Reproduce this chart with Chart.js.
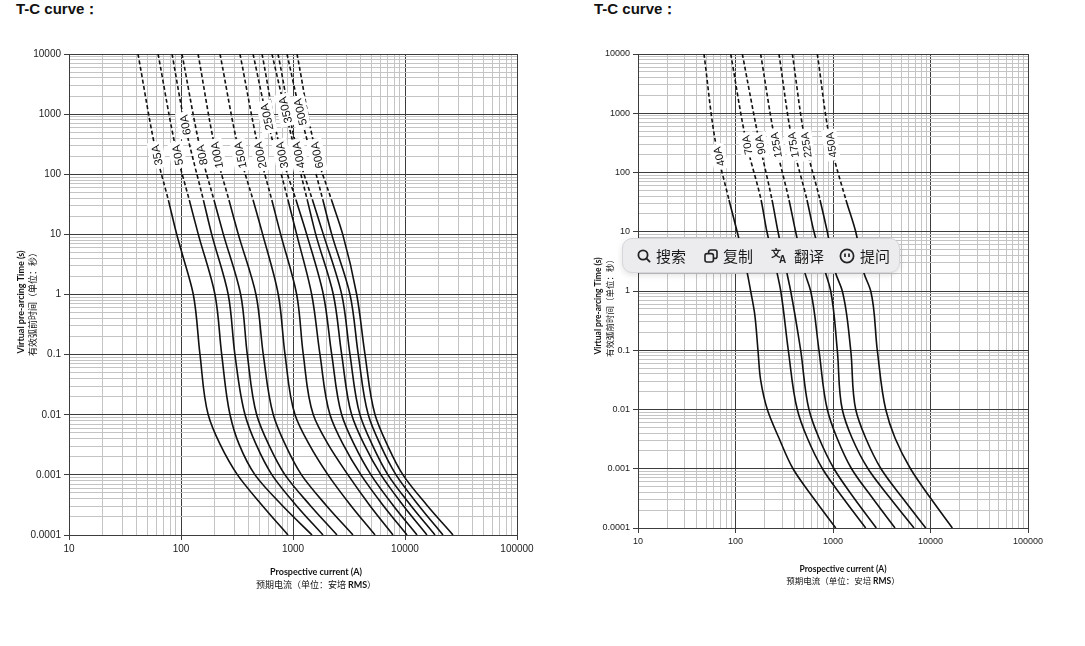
<!DOCTYPE html>
<html>
<head>
<meta charset="utf-8">
<script src="https://cdn.jsdelivr.net/npm/chart.js@4.4.1/dist/chart.umd.min.js"></script>
<style>
  html, body { margin: 0; padding: 0; background: #fff; }
  body { width: 1085px; height: 646px; position: relative; overflow: hidden; font-family: "Liberation Sans", Arial, sans-serif; }
  .head { position: absolute; top: 0px; font-weight: bold; font-size: 15px; color: #111; }
  canvas { position: absolute; top: 0; }
  #toolbar { position: absolute; left: 622px; top: 238px; width: 276px; height: 33px; border-radius: 10px;
    background: #ececef; border: 1px solid #d6d6db; box-shadow: 0 2px 6px rgba(0,0,0,0.12); z-index: 5; }
  #toolbar .it { position: absolute; top: 0; height: 33px; display: flex; align-items: center;
    font-family: "Noto Sans CJK SC", sans-serif; font-size: 15px; color: #1b1b1b; }
  #toolbar svg { margin-right: 5px; }
</style>
</head>
<body>
<div class="head" style="left:16px">T-C curve：</div>
<div class="head" style="left:594px">T-C curve：</div>
<canvas id="leftChart" width="545" height="610" style="left:0"></canvas>
<canvas id="rightChart" width="540" height="610" style="left:545px"></canvas>

<div id="toolbar">
  <div class="it" style="left:14px">
    <svg width="14" height="14" viewBox="0 0 14 14"><circle cx="6" cy="6" r="4.6" stroke="#222" stroke-width="1.8" fill="none"/><line x1="9.4" y1="9.4" x2="12.6" y2="12.6" stroke="#222" stroke-width="1.9" stroke-linecap="round"/></svg>搜索</div>
  <div class="it" style="left:81px">
    <svg width="14" height="14" viewBox="0 0 14 14" fill="none" stroke="#222" stroke-width="1.6"><rect x="1" y="4.6" width="8.4" height="8.4" rx="2"/><path d="M4.6 4.6V3a2 2 0 0 1 2-2H11a2 2 0 0 1 2 2v4.4a2 2 0 0 1-2 2H9.4"/></svg>复制</div>
  <div class="it" style="left:148px">
    <svg width="18" height="15" viewBox="0 0 18 15"><text x="0" y="9" font-size="10" font-weight="bold" fill="#222" font-family="Noto Sans CJK SC">文</text><text x="8" y="14.5" font-size="10" font-weight="bold" fill="#222" font-family="Liberation Sans">A</text></svg>翻译</div>
  <div class="it" style="left:216px">
    <svg width="16" height="16" viewBox="0 0 16 16" fill="none" stroke="#222" stroke-width="1.7"><circle cx="8" cy="8" r="6.6"/><line x1="6" y1="5.6" x2="6" y2="9"/><line x1="10" y1="5.6" x2="10" y2="9"/></svg>提问</div>
</div>

<script>
// ---- axes ----
const xTicks = [10, 100, 1000, 10000, 100000];
const xTickLabels = ['10', '100', '1000', '10000', '100000'];
const yTicks = [0.0001, 0.001, 0.01, 0.1, 1, 10, 100, 1000, 10000];
const yTickLabels = ['0.0001', '0.001', '0.01', '0.1', '1', '10', '100', '1000', '10000'];

const yTitleEn = 'Virtual pre-arcing Time (s)';
const yTitleCn = '有效弧前时间（单位：秒）';
const xTitleEn = 'Prospective current (A)';
const xTitleCn = [['预期电流（单位：安培 ', false], ['RMS', true], ['）', false]];

// ---- left chart curves: [current A, time s] ----
const leftNames = ['35A', '50A', '60A', '80A', '100A', '150A', '200A', '250A', '300A', '350A', '400A', '500A', '600A'];
const left35A = [[41.3,10000],[60.7,208],[77.1,37.2],[91.6,10],[102,4.9],[128.8,1],[147.8,0.1],[175,0.01],[223,0.00324],[319.5,0.001],[529,0.000313],[902,0.0001]];
const left50A = [[62.4,10000],[92.7,208],[118.6,37.2],[142.7,10],[201,1],[231,0.1],[274,0.01],[329.6,0.00324],[458,0.001],[798,0.000313],[1479,0.0001]];
const left60A = [[83.2,10000],[108.6,659],[158.5,37.2],[188,10],[264,1],[303,0.1],[373,0.01],[467,0.00324],[649,0.001],[1064,0.000313],[1853,0.0001]];
const left80A = [[102,10000],[153,208],[197,37.2],[239,10],[341,1],[391,0.1],[474,0.01],[604,0.00324],[849,0.001],[1419,0.000313],[2470,0.0001]];
const left100A = [[142,10000],[208,208],[268,37.2],[325,10],[467,1],[543,0.1],[667,0.01],[849,0.00324],[1191,0.001],[1972,0.000313],[3433,0.0001]];
const left150A = [[223,10000],[336,208],[440,37.2],[536,10],[739,1],[849,0.1],[1042,0.01],[1390,0.00324],[2054,0.001],[3267,0.000313],[5400,0.0001]];
const left200A = [[336,10000],[507,208],[647,37.2],[776,10],[1079,1],[1236,0.1],[1518,0.01],[2054,0.00324],[3097,0.001],[4831,0.000313],[7810,0.0001]];
const left250A = [[440,10000],[582,896],[902,37.2],[1079,10],[1469,1],[1742,0.1],[2140,0.01],[2794,0.00324],[4048,0.001],[6363,0.000313],[10420,0.0001]];
const left300A = [[529,10000],[793,208],[1064,37.2],[1325,10],[1866,1],[2218,0.1],[2722,0.01],[3505,0.00324],[4970,0.001],[7810,0.000313],[12800,0.0001]];
const left350A = [[649,10000],[849,1170],[1342,37.2],[1596,10],[2291,1],[2722,0.1],[3342,0.01],[4305,0.00324],[6107,0.001],[9594,0.000313],[15700,0.0001]];
const left400A = [[735,10000],[1115,208],[1493,37.2],[1866,10],[2722,1],[3228,0.1],[3963,0.01],[5070,0.00324],[7046,0.001],[11220,0.000313],[18540,0.0001]];
const left500A = [[884,10000],[1155,1084],[1849,37.2],[2218,10],[3228,1],[3828,0.1],[4699,0.01],[5984,0.00324],[8318,0.001],[13210,0.000313],[21830,0.0001]];
const left600A = [[1086,10000],[1629,208],[2208,37.2],[2780,10],[3705,1],[4395,0.1],[5400,0.01],[6902,0.00324],[9594,0.001],[15700,0.000313],[26840,0.0001]];
const leftLabelTimes = [208, 208, 659, 208, 208, 208, 208, 896, 208, 1170, 208, 1084, 208];

// ---- right chart curves ----
const rightNames = ['40A', '70A', '90A', '125A', '175A', '225A', '450A'];
const right40A = [[47.5,10000],[63.1,291],[85.8,34.4],[104,10],[132,2],[143,1],[157,0.42],[170,0.1],[181,0.0315],[212,0.01],[279,0.0033],[389,0.001],[630,0.00032],[1066,0.0001]];
const right70A = [[89.3,10000],[131,291],[183,34.4],[210,10],[267,2],[291,1],[348,0.1],[430,0.01],[545,0.0033],[780,0.001],[1268,0.00032],[2163,0.0001]];
const right90A = [[117.5,10000],[178,291],[237,34.4],[273,10],[337,2],[368,1],[466,0.1],[567,0.01],[718,0.0033],[1024,0.001],[1641,0.00032],[2780,0.0001]];
const right125A = [[181,10000],[260,291],[354,34.4],[414,10],[516,2],[590,1],[718,0.1],[874,0.01],[1099,0.0033],[1549,0.001],[2541,0.00032],[4325,0.0001]];
const right175A = [[279,10000],[389,291],[541,34.4],[638,10],[841,2],[947,1],[1107,0.1],[1245,0.01],[1567,0.0033],[2286,0.001],[3846,0.00032],[6775,0.0001]];
const right225A = [[383,10000],[528,291],[736,34.4],[874,10],[1066,2],[1245,1],[1520,0.1],[1710,0.01],[2163,0.0033],[3105,0.001],[5168,0.00032],[8933,0.0001]];
const right450A = [[690,10000],[953,291],[1359,34.4],[1710,10],[2080,2],[2437,1],[2846,0.1],[3474,0.01],[4325,0.0033],[6237,0.001],[10000,0.00032],[16750,0.0001]];
const rightLabelTimes = [185, 291, 291, 291, 291, 291, 291];

Chart.defaults.font.family = '"Liberation Sans", Arial, sans-serif';
Chart.defaults.color = '#222';

function isDecade(v) {
  const l = Math.log10(v);
  return Math.abs(l - Math.round(l)) < 1e-6;
}

// decades plus 2..9 between them, for the grid
function gridTicks(list) {
  const out = [];
  for (let k = 0; k < list.length; k++) {
    out.push({ value: list[k] });
    if (k < list.length - 1) for (let m = 2; m <= 9; m++) out.push({ value: list[k] * m });
  }
  return out;
}

function tickText(v, list, labels) {
  const i = list.indexOf(v);
  return i >= 0 ? labels[i] : '';
}

// rotated current labels sitting on the curves
const curveLabels = {
  id: 'curveLabels',
  afterDatasetsDraw(chart, args, o) {
    const ctx = chart.ctx;
    const ys = chart.scales.y;
    ctx.save();
    ctx.font = o.size + 'px "Liberation Sans", Arial, sans-serif';
    ctx.textAlign = 'center';
    ctx.textBaseline = 'middle';
    chart.data.datasets.forEach((ds, i) => {
      const pts = chart.getDatasetMeta(i).data;
      const py = ys.getPixelForValue(o.times[i]);
      for (let k = 0; k < pts.length - 1; k++) {
        const a = pts[k], b = pts[k + 1];
        if (py >= a.y && py <= b.y) {
          const f = (py - a.y) / (b.y - a.y);
          const px = a.x + f * (b.x - a.x);
          const ang = Math.atan2(a.y - b.y, a.x - b.x);
          const w = ctx.measureText(ds.label).width;
          ctx.save();
          ctx.translate(px, py);
          ctx.rotate(ang);
          ctx.fillStyle = '#fff';
          ctx.fillRect(-w / 2 - 3, -o.size / 2 - 2, w + 6, o.size + 4);
          ctx.fillStyle = '#111';
          ctx.fillText(ds.label, 0, 1);
          ctx.restore();
          break;
        }
      }
    });
    ctx.restore();
  }
};

// two-line axis titles (bold English + Chinese)
const axisTitles = {
  id: 'axisTitles',
  afterDraw(chart, args, o) {
    const ctx = chart.ctx;
    const en = 'bold ' + o.size + 'px Lato, "Liberation Sans", sans-serif';
    const cn = o.size + 'px "Noto Sans CJK SC", sans-serif';
    ctx.save();
    ctx.fillStyle = '#111';
    ctx.textAlign = 'center';
    ctx.textBaseline = 'middle';
    ctx.save();
    ctx.translate(o.yX1, o.yMid);
    ctx.rotate(-Math.PI / 2);
    ctx.font = en;
    ctx.fillText(yTitleEn, 0, 0);
    ctx.restore();
    ctx.save();
    ctx.translate(o.yX2, o.yMid);
    ctx.rotate(-Math.PI / 2);
    ctx.font = cn;
    ctx.fillText(yTitleCn, 0, 0);
    ctx.restore();

    ctx.font = en;
    ctx.fillText(xTitleEn, o.xMid, o.xY1);
    let total = 0;
    xTitleCn.forEach(p => { ctx.font = p[1] ? en : cn; total += ctx.measureText(p[0]).width; });
    let x = o.xMid - total / 2;
    ctx.textAlign = 'left';
    xTitleCn.forEach(p => {
      ctx.font = p[1] ? en : cn;
      ctx.fillText(p[0], x, o.xY2);
      x += ctx.measureText(p[0]).width;
    });
    ctx.restore();
  }
};

function buildChart(id, curves, names, labelTimes, g) {
  const dark = '#3c3c3c';
  const grid = {
    color: c => isDecade(c.tick.value) ? dark : '#c4c4c4',
    lineWidth: 1,
    tickLength: 5,
    tickColor: c => isDecade(c.tick.value) ? dark : 'rgba(0,0,0,0)'
  };
  const datasets = curves.map((pts, i) => ({
    label: names[i],
    data: pts.map(p => ({ x: p[0], y: p[1] })),
    showLine: true,
    borderColor: '#111',
    borderWidth: 1.6,
    pointRadius: 0,
    fill: false,
    indexAxis: 'y',
    cubicInterpolationMode: 'monotone',
    segment: { borderDash: c => c.p0.parsed.y > 40 ? [4, 2.5] : undefined }
  }));
  return new Chart(document.getElementById(id), {
    type: 'scatter',
    data: { datasets },
    options: {
      responsive: false,
      animation: false,
      events: [],
      indexAxis: 'y',
      layout: { padding: { top: g.top, right: g.right, left: 0, bottom: 0 } },
      plugins: {
        legend: { display: false },
        tooltip: { enabled: false },
        curveLabels: { times: labelTimes, size: g.labelSize },
        axisTitles: g.titles
      },
      scales: {
        x: {
          type: 'logarithmic', position: 'bottom', min: 10, max: 100000,
          afterBuildTicks: s => { s.ticks = gridTicks(xTicks); },
          afterFit: s => { s.height = g.xh; },
          ticks: { autoSkip: false, maxRotation: 0, padding: 3, font: { size: g.fs }, color: '#222',
            callback: v => tickText(v, xTicks, xTickLabels) },
          grid: grid,
          border: { display: true, color: dark, width: 1 }
        },
        y: {
          type: 'logarithmic', position: 'left', min: 0.0001, max: 10000,
          afterBuildTicks: s => { s.ticks = gridTicks(yTicks); },
          afterFit: s => { s.width = g.yw; },
          ticks: { autoSkip: false, padding: 3, font: { size: g.fs }, color: '#222',
            callback: v => tickText(v, yTicks, yTickLabels) },
          grid: grid,
          border: { display: true, color: dark, width: 1 }
        }
      }
    },
    plugins: [curveLabels, axisTitles]
  });
}

buildChart('leftChart',
  [left35A, left50A, left60A, left80A, left100A, left150A, left200A, left250A, left300A, left350A, left400A, left500A, left600A],
  leftNames, leftLabelTimes,
  { top: 54, right: 28, xh: 75, yw: 69, fs: 10, labelSize: 11.5,
    titles: { size: 9, yX1: 21, yX2: 33, yMid: 302, xMid: 316, xY1: 572, xY2: 585 } });

buildChart('rightChart',
  [right40A, right70A, right90A, right125A, right175A, right225A, right450A],
  rightNames, rightLabelTimes,
  { top: 54, right: 57, xh: 82, yw: 93, fs: 9, labelSize: 11,
    titles: { size: 8.5, yX1: 53, yX2: 65, yMid: 306, xMid: 298, xY1: 569, xY2: 581 } });
</script>
</body>
</html>
